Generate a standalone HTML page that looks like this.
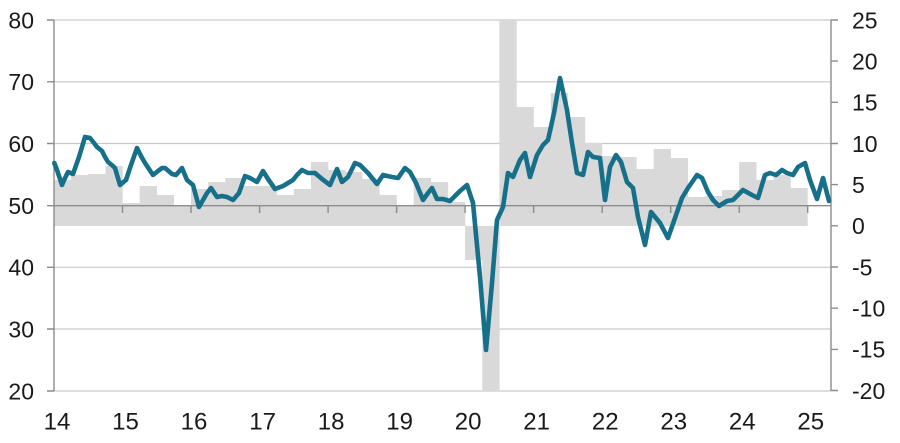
<!DOCTYPE html>
<html>
<head>
<meta charset="utf-8">
<style>
  html,body{margin:0;padding:0;background:#fff;}
  svg{display:block;}
  text{font-family:"Liberation Sans",Arial,sans-serif;fill:#1a1a1a;}
</style>
</head>
<body>
<svg width="900" height="443" viewBox="0 0 900 443" xmlns="http://www.w3.org/2000/svg">
  <rect x="0" y="0" width="900" height="443" fill="#fff"/>
  <path stroke="#c9c9c9" stroke-width="1.2" fill="none"
    d="M54 20H831M54 81.8H831M54 143.5H831M54 267.3H831M54 329H831M54 391H831"/>
  <path fill="#d9d9d9" d="
    M54 180h17.3V226H54Z
    M71.1 175h17.3V226H71.1Z
    M88.3 174h17.3V226H88.3Z
    M105.4 166h17.3V226H105.4Z
    M122.5 203h17.3V226H122.5Z
    M139.7 186h17.3V226H139.7Z
    M156.8 195h17.3V226H156.8Z
    M173.9 205h17.3V226H173.9Z
    M191 189h17.3V226H191Z
    M208.2 182h17.3V226H208.2Z
    M225.3 178h17.3V226H225.3Z
    M242.4 186h17.3V226H242.4Z
    M259.6 186h17.3V226H259.6Z
    M276.7 195h17.3V226H276.7Z
    M293.8 189h17.3V226H293.8Z
    M311 162h17.3V226H311Z
    M328.1 170h17.3V226H328.1Z
    M345.2 172h17.3V226H345.2Z
    M362.3 179h17.3V226H362.3Z
    M379.5 195h17.3V226H379.5Z
    M396.6 205h17.3V226H396.6Z
    M413.7 178h17.3V226H413.7Z
    M430.9 182h17.3V226H430.9Z
    M448 202h17.3V226H448Z
    M465.1 226h17.3V260H465.1Z
    M482.3 226h17.3V391H482.3Z
    M499.4 20h17.3V226H499.4Z
    M516.5 107h17.3V226H516.5Z
    M533.6 127h17.3V226H533.6Z
    M550.8 93h17.3V226H550.8Z
    M567.9 117h17.3V226H567.9Z
    M585 143h17.3V226H585Z
    M602.2 156h17.3V226H602.2Z
    M619.3 157h17.3V226H619.3Z
    M636.4 169h17.3V226H636.4Z
    M653.6 149h17.3V226H653.6Z
    M670.7 158h17.3V226H670.7Z
    M687.8 197h17.3V226H687.8Z
    M704.9 196h17.3V226H704.9Z
    M722.1 190h17.3V226H722.1Z
    M739.2 162h17.3V226H739.2Z
    M756.3 180h17.3V226H756.3Z
    M773.5 175h17.3V226H773.5Z
    M790.6 188h17.1V226H790.6Z"/>
  <path stroke="#8c8c8c" stroke-width="1.4" fill="none" d="
    M54 20V391M831 20V391M54 205.7H831
    M47 20h7M47 81.8h7M47 143.5h7M47 205.7h7M47 267.3h7M47 329h7M47 391h7
    M831 20h7M831 61.1h7M831 102.3h7M831 143.5h7M831 184.6h7M831 225.8h7M831 267h7M831 308.2h7M831 349.4h7M831 390.5h7
    M122.5 205.7v7.3M191 205.7v7.3M259.6 205.7v7.3M328.1 205.7v7.3M396.6 205.7v7.3M465.1 205.7v7.3
    M533.6 205.7v7.3M602.2 205.7v7.3M670.7 205.7v7.3M739.2 205.7v7.3M807.7 205.7v7.3"/>
  <polyline fill="none" stroke="#17708a" stroke-width="4.6" stroke-linejoin="round" stroke-linecap="round"
    points="54.3,163 57,170 62,185 65,178 68,172 73,174 79,157 85,137 90,138 94,143 97,147 102,151 105,157 108,162 113,166 115,168 120,185 126,180 131,165 137,148 141,156 145,163 149,169 153,175 158,171 162,168 165,168 172,174 176,175 182,168 187,180 193,185 199,207 203,200 207,193 211,188 217,197 222,196 227,197 233,200 239,193 245,176 250,178 257,182 263,171 268,179 275,189 283,186 293,180 297,175 302,170 308,173 315,173 322,179 330,185 337,169 342,182 348,177 355,163 360,165 368,173 377,184 383,175 392,177 398,178 405,168 410,172 416,183 423,200 428,193 432,188 437,199 443,199 450,201 455,196 460,191 467,185 473,203 480,277 486,350 492,283 497,220 503,207 508,173 513,177 520,160 525,153 530,177 537,155 543,145 548,140 554,113 560,78 567,110 572,143 577,173 583,175 588,152 593,157 600,158 605,200 610,167 616,155 621,162 627,182 633,188 638,217 645,245 651,212 660,223 668,238 675,218 682,198 688,188 697,175 702,178 708,192 713,200 719,206 727,201 733,200 743,190 752,195 758,198 765,175 770,173 776,175 782,170 787,173 793,175 798,167 805,163 810,180 817,199 823,178 829,201"/>
  <g font-size="23" text-anchor="end">
    <text x="34" y="28.3">80</text>
    <text x="34" y="90.1">70</text>
    <text x="34" y="151.8">60</text>
    <text x="34" y="214">50</text>
    <text x="34" y="275.6">40</text>
    <text x="34" y="337.3">30</text>
    <text x="34" y="399.3">20</text>
  </g>
  <g font-size="23" text-anchor="start">
    <text x="852" y="28.3">25</text>
    <text x="852" y="69.4">20</text>
    <text x="852" y="110.6">15</text>
    <text x="852" y="151.8">10</text>
    <text x="852" y="192.9">5</text>
    <text x="852" y="234.1">0</text>
    <text x="852" y="275.3">-5</text>
    <text x="852" y="316.5">-10</text>
    <text x="852" y="357.7">-15</text>
    <text x="852" y="398.8">-20</text>
  </g>
  <g font-size="24" text-anchor="middle">
    <text x="57" y="429.3">14</text>
    <text x="125.5" y="429.3">15</text>
    <text x="194" y="429.3">16</text>
    <text x="262.6" y="429.3">17</text>
    <text x="331.1" y="429.3">18</text>
    <text x="399.6" y="429.3">19</text>
    <text x="468.1" y="429.3">20</text>
    <text x="536.6" y="429.3">21</text>
    <text x="605.2" y="429.3">22</text>
    <text x="673.7" y="429.3">23</text>
    <text x="742.2" y="429.3">24</text>
    <text x="810.7" y="429.3">25</text>
  </g>
</svg>
</body>
</html>
